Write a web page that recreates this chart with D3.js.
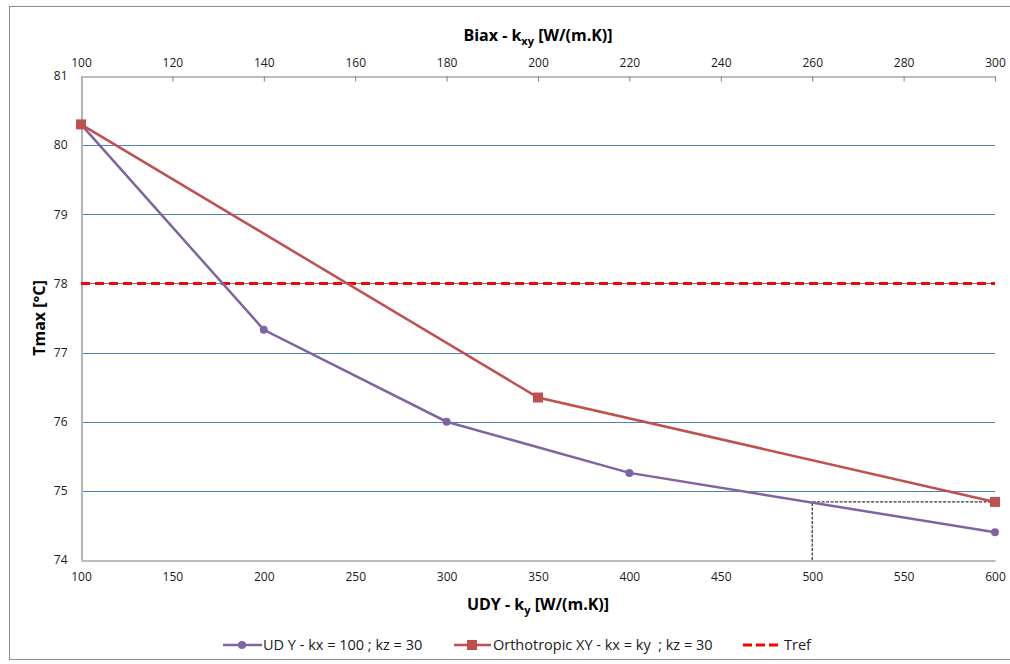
<!DOCTYPE html>
<html>
<head>
<meta charset="utf-8">
<script src="https://cdn.jsdelivr.net/npm/d3@7"></script>
<style>
  body { margin: 0; background: #fff; }
  svg { display: block; font-family: "Open Sans", "Noto Sans", sans-serif; }
</style>
</head>
<body>
<svg id="chart"></svg>
<script>
// values
const udyKy = [100, 200, 300, 400, 600];
const udyTmax = [80.3, 77.33, 76.0, 75.26, 74.4];
const biaxKxy = [100, 200, 300];
const biaxTmax = [80.3, 76.35, 74.84];
const trefValue = 78;
const guideKy = [500, 500, 600];
const guideTmax = [74, 74.84, 74.84];
const bottomTicks = [100, 150, 200, 250, 300, 350, 400, 450, 500, 550, 600];
const topTicks = [100, 120, 140, 160, 180, 200, 220, 240, 260, 280, 300];
const yTicks = [74, 75, 76, 77, 78, 79, 80, 81];

const width = 1010, height = 664;
const plot = { left: 81, right: 995, top: 76, bottom: 560 };

const svg = d3.select('#chart').attr('width', width).attr('height', height);

// chart frame (runs off the right edge like the screenshot)
svg.append('rect')
  .attr('x', 9.5).attr('y', 6.5)
  .attr('width', 1010).attr('height', 653)
  .attr('fill', '#fff')
  .attr('stroke', '#8c8c8c');

const x = d3.scaleLinear().domain([100, 600]).range([plot.left, plot.right]);
const x2 = d3.scaleLinear().domain([100, 300]).range([plot.left, plot.right]);
const y = d3.scaleLinear().domain([74, 81]).range([plot.bottom, plot.top]);

// horizontal gridlines
svg.append('g')
  .selectAll('line')
  .data(yTicks.filter(d => d > 74 && d < 81))
  .enter()
  .append('line')
  .attr('x1', plot.left).attr('x2', plot.right)
  .attr('y1', d => Math.round(y(d)) + 0.5).attr('y2', d => Math.round(y(d)) + 0.5)
  .attr('stroke', '#4f81bd')
  .attr('stroke-width', 1);

// bottom axis
const bottomAxis = svg.append('g')
  .attr('transform', `translate(0,${plot.bottom + 0.5})`)
  .call(d3.axisBottom(x).tickValues(bottomTicks).tickSize(0).tickPadding(12));
bottomAxis.select('.domain').attr('stroke', '#a6a6a6').attr('stroke-width', 1.5);

// top axis (secondary, ticks pointing in)
const topAxis = svg.append('g')
  .attr('transform', `translate(0,${plot.top + 0.5})`)
  .call(d3.axisTop(x2).tickValues(topTicks).tickSizeInner(-5).tickSizeOuter(0).tickPadding(10));
topAxis.select('.domain').attr('stroke', '#a6a6a6').attr('stroke-width', 1.5);
topAxis.selectAll('.tick line').attr('stroke', '#7f7f7f');

// left axis
const leftAxis = svg.append('g')
  .attr('transform', `translate(${plot.left + 0.5},0)`)
  .call(d3.axisLeft(y).tickValues(yTicks).tickFormat(d3.format('d')).tickSize(0).tickPadding(14));
leftAxis.select('.domain').attr('stroke', '#b3b3b3').attr('stroke-width', 2);

svg.selectAll('.tick text')
  .attr('font-size', 12)
  .attr('fill', '#1a1a1a')
  .attr('font-family', '"Open Sans", sans-serif');

// axis titles
const topTitle = svg.append('text')
  .attr('x', 538).attr('y', 41)
  .attr('text-anchor', 'middle')
  .attr('font-size', 16).attr('font-weight', 'bold');
topTitle.append('tspan').text('Biax - k');
topTitle.append('tspan').attr('font-size', 11).attr('dy', 4).text('xy');
topTitle.append('tspan').attr('dy', -4).text(' [W/(m.K)]');

const bottomTitle = svg.append('text')
  .attr('x', 538).attr('y', 610)
  .attr('text-anchor', 'middle')
  .attr('font-size', 16).attr('font-weight', 'bold');
bottomTitle.append('tspan').text('UDY - k');
bottomTitle.append('tspan').attr('font-size', 11).attr('dy', 4).text('y');
bottomTitle.append('tspan').attr('dy', -4).text(' [W/(m.K)]');

svg.append('text')
  .attr('transform', `translate(45,318) rotate(-90)`)
  .attr('text-anchor', 'middle')
  .attr('font-size', 16).attr('font-weight', 'bold')
  .text('Tmax [°C]');

// reading guide (dotted black)
const guideLine = d3.line().x(d => x(d[0])).y(d => y(d[1]));
svg.append('path')
  .attr('d', guideLine(d3.zip(guideKy, guideTmax)))
  .attr('fill', 'none')
  .attr('stroke', '#000')
  .attr('stroke-width', 1)
  .attr('stroke-dasharray', '3,1.5');

// Tref line
svg.append('line')
  .attr('x1', plot.left).attr('x2', plot.right)
  .attr('y1', y(trefValue)).attr('y2', y(trefValue))
  .attr('stroke', '#ff0000')
  .attr('stroke-width', 3)
  .attr('stroke-dasharray', '9,5');

// UD Y series
const udyPoints = d3.zip(udyKy, udyTmax);
svg.append('path')
  .attr('d', d3.line().x(d => x(d[0])).y(d => y(d[1]))(udyPoints))
  .attr('fill', 'none')
  .attr('stroke', '#8064a2')
  .attr('stroke-width', 2.5);
svg.append('g')
  .selectAll('circle')
  .data(udyPoints)
  .enter()
  .append('circle')
  .attr('cx', d => x(d[0])).attr('cy', d => y(d[1]))
  .attr('r', 4)
  .attr('fill', '#8064a2');

// Orthotropic XY series (top axis)
const biaxPoints = d3.zip(biaxKxy, biaxTmax);
svg.append('path')
  .attr('d', d3.line().x(d => x2(d[0])).y(d => y(d[1]))(biaxPoints))
  .attr('fill', 'none')
  .attr('stroke', '#c0504d')
  .attr('stroke-width', 2.5);
svg.append('g')
  .selectAll('rect')
  .data(biaxPoints)
  .enter()
  .append('rect')
  .attr('x', d => x2(d[0]) - 5).attr('y', d => y(d[1]) - 5)
  .attr('width', 10).attr('height', 10)
  .attr('fill', '#c0504d');

// legend
const legend = svg.append('g').attr('font-size', 14.5).attr('fill', '#1a1a1a');
const ly = 645;

legend.append('line').attr('x1', 223).attr('x2', 262).attr('y1', ly).attr('y2', ly)
  .attr('stroke', '#8064a2').attr('stroke-width', 2.5);
legend.append('circle').attr('cx', 242).attr('cy', ly).attr('r', 4).attr('fill', '#8064a2');
legend.append('text').attr('x', 263).attr('y', ly + 5).text('UD Y - kx = 100 ; kz = 30');

legend.append('line').attr('x1', 454).attr('x2', 491).attr('y1', ly).attr('y2', ly)
  .attr('stroke', '#c0504d').attr('stroke-width', 2.5);
legend.append('rect').attr('x', 467).attr('y', ly - 5).attr('width', 10).attr('height', 10).attr('fill', '#c0504d');
legend.append('text').attr('x', 493).attr('y', ly + 5).attr('xml:space', 'preserve')
  .text('Orthotropic XY - kx = ky  ; kz = 30');

legend.append('line').attr('x1', 743).attr('x2', 778).attr('y1', ly).attr('y2', ly)
  .attr('stroke', '#ff0000').attr('stroke-width', 3).attr('stroke-dasharray', '9,4');
legend.append('text').attr('x', 784).attr('y', ly + 5).text('Tref');
</script>
</body>
</html>
